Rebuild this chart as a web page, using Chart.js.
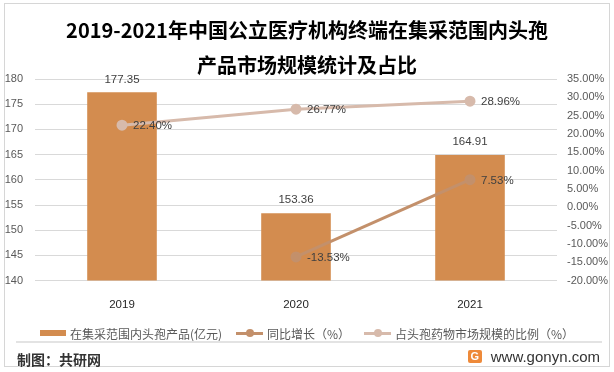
<!DOCTYPE html>
<html>
<head>
<meta charset="utf-8">
<script src="https://cdn.jsdelivr.net/npm/chart.js@4.4.1/dist/chart.umd.min.js"></script>
<style>
  html, body { margin: 0; padding: 0; background: #fff; }
  #wrap { position: relative; width: 614px; height: 372px; overflow: hidden;
    font-family: "Microsoft YaHei", "Noto Sans CJK SC", sans-serif; }
  #frame { position: absolute; left: 4px; top: 3px; width: 604px; height: 362px; border: 1px solid #d6d6d6; }
  #chart { position: absolute; left: 0; top: 0; }
  #legend { position: absolute; left: 0; width: 614px; top: 325px; height: 16px; display: flex;
    justify-content: center; align-items: center; font-size: 12px; color: #595959; white-space: nowrap; }
  .item { display: flex; align-items: center; margin: 0 7px; }
  .sw-bar { width: 26px; height: 6px; margin-right: 4px; }
  .sw-line { position: relative; width: 27px; height: 3px; margin-right: 4px; }
  .sw-line i { position: absolute; left: 10px; top: -2.5px; width: 8px; height: 8px; border-radius: 50%; }
  #sep { position: absolute; left: 16px; width: 586px; top: 341px; height: 2px; background: #e3e3e3; }
  #src { position: absolute; left: 17px; top: 349px; font-size: 14px; font-weight: bold; color: #333; }
  #site { position: absolute; right: 14px; top: 348px; display: flex; align-items: center;
    font-family: "Liberation Sans", Arial, sans-serif; font-size: 15px; color: #333; }
  #logo { width: 14px; height: 13px; margin-right: 9px; background: #ee8a3a; color: #fff; font-size: 11px;
    font-weight: bold; line-height: 13px; text-align: center; border-radius: 2px; }
</style>
</head>
<body>
<div id="wrap">
  <div id="frame"></div>
  <canvas id="chart" width="614" height="372"></canvas>
  <div id="legend"></div>
  <div id="sep"></div>
  <div id="src">制图：共研网</div>
  <div id="site"><div id="logo">G</div>www.gonyn.com</div>
</div>
<script>
const years = ['2019', '2020', '2021'];
const marketSize = [177.35, 153.36, 164.91];
const growthRate = [null, -13.53, 7.53];
const shareRate = [22.40, 26.77, 28.96];

const titleLines = ['2019-2021年中国公立医疗机构终端在集采范围内头孢', '产品市场规模统计及占比'];
const seriesNames = ['在集采范围内头孢产品(亿元)', '同比增长（%）', '占头孢药物市场规模的比例（%）'];

const barColor = '#d38c4f';
const growthColor = '#c3906b';
const shareColor = '#d7baab';
const fontFamily = '"Microsoft YaHei", "Noto Sans CJK SC", sans-serif';
const numFont = '"Liberation Sans", Arial, sans-serif';

// value labels: above bars, right of line points
const valueLabels = {
  id: 'valueLabels',
  afterDatasetsDraw(chart) {
    const ctx = chart.ctx;
    ctx.save();
    ctx.font = '11.5px ' + numFont;
    ctx.fillStyle = '#404040';
    chart.data.datasets.forEach((ds, i) => {
      const meta = chart.getDatasetMeta(i);
      meta.data.forEach((el, j) => {
        const v = ds.data[j];
        if (v === null) return;
        if (ds.type === 'bar') {
          ctx.textAlign = 'center';
          ctx.textBaseline = 'middle';
          ctx.fillText(v.toFixed(2), el.x, el.y - 13);
        } else {
          ctx.textAlign = 'left';
          ctx.textBaseline = 'middle';
          ctx.fillText(v.toFixed(2) + '%', el.x + 11, el.y + 1);
        }
      });
    });
    ctx.restore();
  }
};

const chart = new Chart(document.getElementById('chart'), {
  data: {
    labels: years,
    datasets: [
      {
        type: 'line',
        label: seriesNames[2],
        data: shareRate,
        yAxisID: 'y1',
        borderColor: shareColor,
        backgroundColor: shareColor,
        borderWidth: 3,
        pointRadius: 4,
        pointHoverRadius: 4,
        order: 1,
      },
      {
        type: 'line',
        label: seriesNames[1],
        data: growthRate,
        yAxisID: 'y1',
        borderColor: growthColor,
        backgroundColor: growthColor,
        borderWidth: 3,
        pointRadius: 4,
        pointHoverRadius: 4,
        order: 2,
      },
      {
        type: 'bar',
        label: seriesNames[0],
        data: marketSize,
        yAxisID: 'y',
        backgroundColor: barColor,
        categoryPercentage: 1,
        barPercentage: 0.4,
        order: 3,
      },
    ],
  },
  options: {
    responsive: false,
    animation: false,
    layout: { padding: { left: 5, right: 5, top: 0, bottom: 51.6 } },
    plugins: {
      legend: { display: false },
      tooltip: { enabled: false },
      title: {
        display: true,
        text: titleLines,
        color: '#000',
        font: { family: fontFamily, size: 20, weight: 'bold', lineHeight: '35px' },
        padding: { top: 12.5, bottom: -3.5 },
      },
    },
    scales: {
      x: {
        grid: { display: false },
        border: { display: false },
        ticks: { color: '#262626', padding: 9, font: { family: numFont, size: 11.5 } },
      },
      y: {
        position: 'left',
        min: 140,
        max: 180,
        ticks: { stepSize: 5, color: '#595959', padding: 12, font: { family: numFont, size: 11 } },
        grid: { color: '#d9d9d9', drawTicks: false },
        border: { display: false },
        afterFit(scale) { scale.width = 30; },
      },
      y1: {
        position: 'right',
        min: -20,
        max: 35,
        ticks: {
          stepSize: 5,
          color: '#595959',
          padding: 10,
          font: { family: numFont, size: 11 },
          callback: (v) => v.toFixed(2) + '%',
        },
        grid: { drawOnChartArea: false, drawTicks: false },
        border: { display: false },
        afterFit(scale) { scale.width = 52; },
      },
    },
  },
  plugins: [valueLabels],
});

// legend as html under the chart
const legendItems = [
  { name: seriesNames[0], color: barColor, kind: 'bar' },
  { name: seriesNames[1], color: growthColor, kind: 'line' },
  { name: seriesNames[2], color: shareColor, kind: 'line' },
];
const legend = document.getElementById('legend');
legendItems.forEach((it) => {
  const item = document.createElement('div');
  item.className = 'item';
  const sw = document.createElement('div');
  if (it.kind === 'bar') {
    sw.className = 'sw-bar';
  } else {
    sw.className = 'sw-line';
    const dot = document.createElement('i');
    dot.style.background = it.color;
    sw.appendChild(dot);
  }
  sw.style.background = it.color;
  item.appendChild(sw);
  const label = document.createElement('span');
  label.textContent = it.name;
  item.appendChild(label);
  legend.appendChild(item);
});
</script>
</body>
</html>
